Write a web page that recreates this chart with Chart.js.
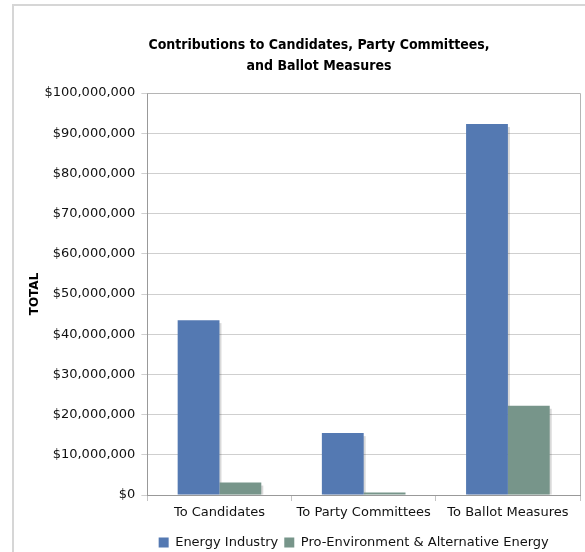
<!DOCTYPE html>
<html><head><meta charset="utf-8">
<script src="https://cdn.jsdelivr.net/npm/chart.js@4/dist/chart.umd.min.js"></script>
<style>
html,body{margin:0;padding:0;background:#fff;}
#wrap{position:relative;width:585px;height:552px;overflow:hidden;}
#frame{position:absolute;left:12px;top:4px;width:600px;height:600px;border:2px solid #d6d6d6;box-sizing:border-box;}
#c{position:absolute;left:0;top:0;}
</style></head>
<body>
<div id="wrap"><div id="frame"></div><canvas id="c" width="585" height="559"></canvas></div>
<script>
const categories = ["To Candidates", "To Party Committees", "To Ballot Measures"];
const energyIndustry = [43500000, 15400000, 92300000];
const proEnvironment = [3100000, 600000, 22200000];
const seriesNames = ["Energy Industry", "Pro-Environment & Alternative Energy"];
const titleLines = ["Contributions to Candidates, Party Committees,", "and Ballot Measures"];
const yTicksMax = 100000000;
const yTickStep = 10000000;

const FONT = "Verdana, 'DejaVu Sans', sans-serif";
const TITLE_FONT = "bold 14px 'DejaVu Sans Condensed', Tahoma, 'DejaVu Sans', sans-serif";
const fmt = v => "$" + Math.round(v).toLocaleString("en-US");

new Chart(document.getElementById("c"), {
  type: "bar",
  data: {
    labels: categories,
    datasets: [
      {label: seriesNames[0], data: energyIndustry, backgroundColor: "#5479b2"},
      {label: seriesNames[1], data: proEnvironment, backgroundColor: "#77958a"}
    ]
  },
  options: {
    responsive: false,
    animation: false,
    devicePixelRatio: 1,
    layout: {padding: {left: 20, right: 5, top: 93, bottom: 0}},
    datasets: {bar: {categoryPercentage: 0.58, barPercentage: 1}},
    plugins: {
      title: {display: false},
      legend: {
        position: "bottom",
        fullSize: false,
        labels: {
          color: "#111",
          font: {family: FONT, size: 13},
          boxWidth: 10, boxHeight: 10, padding: 6
        }
      },
      tooltip: {enabled: false}
    },
    scales: {
      x: {
        afterFit(scale) { scale.height = 35; },
        grid: {display: true, offset: true, drawOnChartArea: false, drawTicks: true, tickLength: 6, color: "#c4c4c4"},
        border: {display: true, color: "#999", width: 1},
        ticks: {color: "#111", font: {family: FONT, size: 13}, padding: 4}
      },
      y: {
        min: 0, max: yTicksMax,
        ticks: {stepSize: yTickStep, color: "#111", font: {family: FONT, size: 13}, padding: 6, callback: v => fmt(v)},
        grid: {color: "#cfcfcf", tickLength: 6, lineWidth: 1},
        border: {display: true, color: "#999", width: 1},
        title: {display: true, text: "TOTAL", color: "#000", font: {family: FONT, size: 12, weight: "bold"}, padding: {top: 8, bottom: -4}}
      }
    }
  },
  plugins: [{
    id: "legendShift",
    afterLayout(chart) {
      if (chart.legend) { chart.legend.left -= 10; chart.legend.right -= 10; }
    }
  }, {
    id: "barShadow",
    beforeDatasetsDraw(chart) {
      const ctx = chart.ctx;
      ctx.save();
      ctx.fillStyle = "rgba(0,0,0,0.15)";
      chart.data.datasets.forEach((ds, i) => {
        const meta = chart.getDatasetMeta(i);
        meta.data.forEach(bar => {
          const p = bar.getProps(["x", "y", "width", "base"], true);
          const left = p.x - p.width / 2;
          const h = p.base - p.y - 3;
          if (h > 0) ctx.fillRect(left + 2, p.y + 3, p.width, h);
        });
      });
      ctx.restore();
    }
  }, {
    id: "frameLines",
    afterDraw(chart) {
      const {ctx, chartArea: a} = chart;
      ctx.save();
      ctx.strokeStyle = "#b5b5b5";
      ctx.lineWidth = 1;
      ctx.beginPath();
      ctx.moveTo(a.left, a.top + 0.5); ctx.lineTo(a.right + 0.5, a.top + 0.5); ctx.lineTo(a.right + 0.5, a.bottom);
      ctx.stroke();
      ctx.fillStyle = "#000";
      ctx.font = TITLE_FONT;
      ctx.textAlign = "center";
      ctx.textBaseline = "middle";
      titleLines.forEach((t, i) => ctx.fillText(t, 319, 45 + i * 21));
      ctx.restore();
    }
  }]
});
</script>
</body></html>
